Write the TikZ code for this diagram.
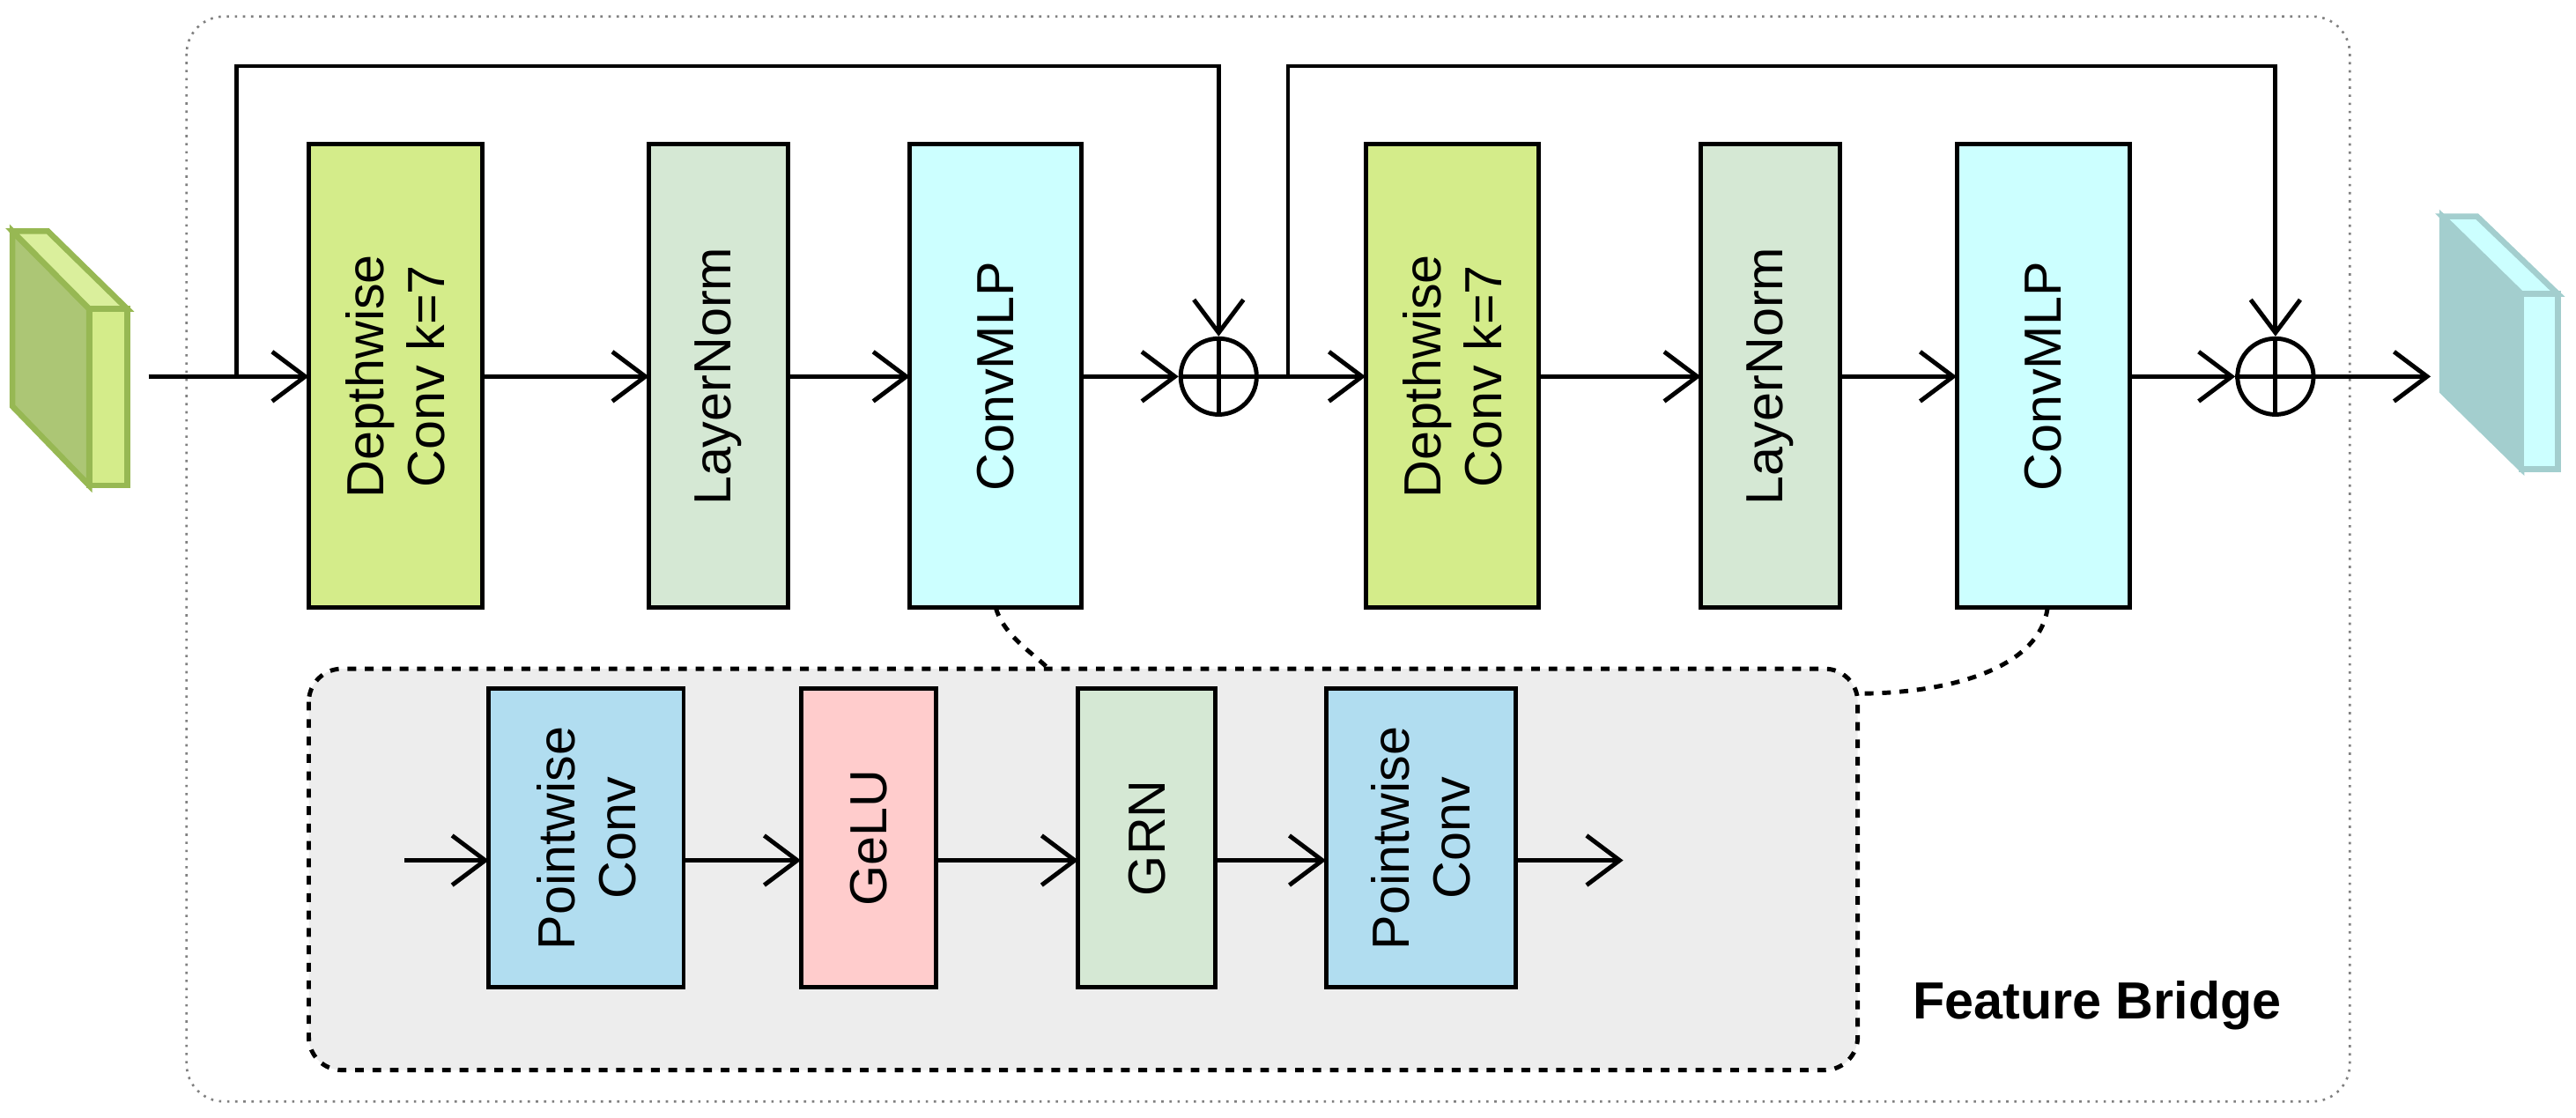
\documentclass[tikz,border=0pt]{standalone}
\usepackage{fontspec}
\setmainfont{Liberation Sans}
\usetikzlibrary{arrows.meta}
\definecolor{dwgreen}{HTML}{D4EC8A}
\definecolor{lngreen}{HTML}{D5E8D4}
\definecolor{mlpcyan}{HTML}{CCFFFF}
\definecolor{pwblue}{HTML}{B1DDF0}
\definecolor{gelured}{HTML}{FFCCCC}
\definecolor{cubegreen}{HTML}{97B853}
\definecolor{cubecyan}{HTML}{A3CECE}
\begin{document}
\begin{tikzpicture}[x=0.02cm,y=-0.02cm,
        line width=1.5pt,
        >={Straight Barb[length=4mm,width=6mm,line width=1.5pt]},
        txt/.style={rotate=90,align=center,font=\fontsize{18}{21}\selectfont},
        plus/.style={draw,circle,minimum size=0.92cm,inner sep=0pt},
    ]
    \useasboundingbox (0,0) rectangle (1560,677);
    \draw[gray,dotted,line width=0.8pt,rounded corners=0.45cm] (113,10) rectangle (1423,667);
    % input and output feature maps
    \draw[cubegreen,line width=2pt,fill=cubegreen!80!white] (7.5,140) -- (54,187) -- (54,294) -- (7.5,246) -- cycle;
    \draw[cubegreen,line width=2pt,fill=dwgreen!85!white] (7.5,140) -- (29,140) -- (77,187) -- (54,187) -- cycle;
    \draw[cubegreen,line width=2pt,fill=dwgreen] (54,187) rectangle (77,294);
    \draw[cubecyan,line width=2pt,fill=cubecyan] (1479,131) -- (1527,178) -- (1527,284) -- (1479,237) -- cycle;
    \draw[cubecyan,line width=2pt,fill=mlpcyan] (1479,131) -- (1500,131) -- (1549,178) -- (1527,178) -- cycle;
    \draw[cubecyan,line width=2pt,fill=mlpcyan] (1527,178) rectangle (1549,284);
    % main row
    \draw[fill=dwgreen] (187,87) rectangle (292,368);
    \node[txt] (dw1) at (239.5,228) {Depthwise\\Conv k=7};
    \draw[fill=lngreen] (393,87) rectangle (477,368);
    \node[txt] (ln1) at (435,228) {LayerNorm};
    \draw[fill=mlpcyan] (551,87) rectangle (655,368);
    \node[txt] (mlp1) at (603,228) {ConvMLP};
    \node[plus] (add1) at (738,228) {};
    \draw[fill=dwgreen] (827,87) rectangle (932,368);
    \node[txt] (dw2) at (879.5,228) {Depthwise\\Conv k=7};
    \draw[fill=lngreen] (1030,87) rectangle (1114,368);
    \node[txt] (ln2) at (1072,228) {LayerNorm};
    \draw[fill=mlpcyan] (1185,87) rectangle (1290,368);
    \node[txt] (mlp2) at (1237.5,228) {ConvMLP};
    \node[plus] (add2) at (1378,228) {};
    \draw (add1.north) -- (add1.south) (add1.west) -- (add1.east);
    \draw (add2.north) -- (add2.south) (add2.west) -- (add2.east);
    \coordinate (in) at (90,228);
    \coordinate (out) at (1472,228);
    \draw[->] (in) -- (187,228);
    \draw[->] (292,228) -- (393,228);
    \draw[->] (477,228) -- (551,228);
    \draw[->] (655,228) -- (add1);
    \draw[->] (add1) -- (827,228);
    \draw[->] (932,228) -- (1030,228);
    \draw[->] (1114,228) -- (1185,228);
    \draw[->] (1290,228) -- (add2);
    \draw[->] (add2) -- (out);
    \draw[->] (143,228) -- (143,40) -- (738,40) -- (add1.north);
    \draw[->] (780,228) -- (780,40) -- (1378,40) -- (add2.north);
    % feature bridge
    \draw[dashed,fill=black!7,rounded corners=0.4cm] (187,405) rectangle (1125,648);
    \draw[dashed] (603,368) .. controls (608,385) and (625,395) .. (635,405);
    \draw[dashed] (1240,368) .. controls (1235,405) and (1180,420) .. (1125,420);
    \draw[fill=pwblue] (296,417) rectangle (414,598);
    \node[txt] (pw1) at (355,507.5) {Pointwise\\Conv};
    \draw[fill=gelured] (485,417) rectangle (567,598);
    \node[txt] (gelu) at (526,507.5) {GeLU};
    \draw[fill=lngreen] (653,417) rectangle (736,598);
    \node[txt] (grn) at (694.5,507.5) {GRN};
    \draw[fill=pwblue] (803,417) rectangle (918,598);
    \node[txt] (pw2) at (860.5,507.5) {Pointwise\\Conv};
    \draw[->] (245,521) -- (296,521);
    \draw[->] (414,521) -- (485,521);
    \draw[->] (567,521) -- (653,521);
    \draw[->] (736,521) -- (803,521);
    \draw[->] (918,521) -- (983,521);
    \node[font=\bfseries\fontsize{18}{21}\selectfont] (fb) at (1270,609) {Feature Bridge};
\end{tikzpicture}
\end{document}
